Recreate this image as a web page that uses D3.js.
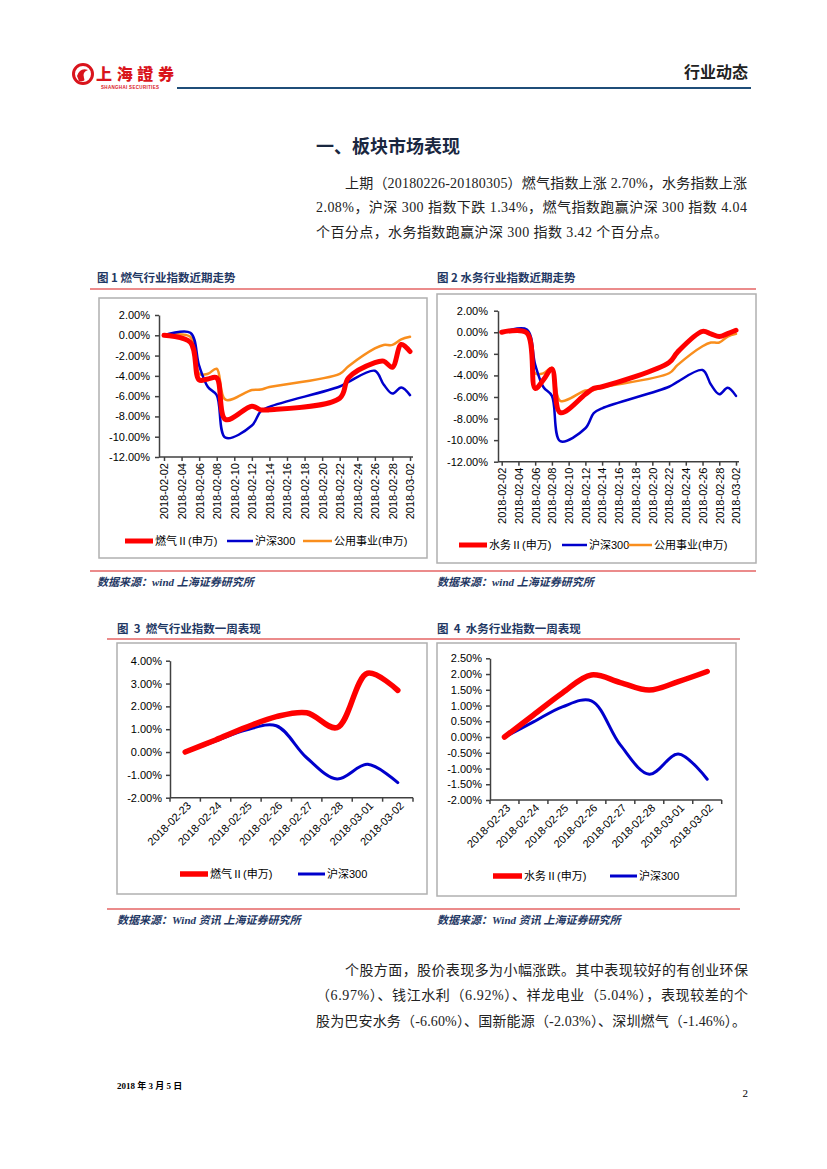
<!DOCTYPE html>
<html>
<head>
<meta charset="utf-8">
<script src="https://cdn.jsdelivr.net/npm/d3@7"></script>
<style>
  body { margin: 0; background: #fff; }
</style>
</head>
<body>
<div id="page"></div>
<script>
// ---- data ----
const trendDates = ["2018-02-02", "2018-02-05", "2018-02-06", "2018-02-07", "2018-02-08", "2018-02-09",
  "2018-02-12", "2018-02-13", "2018-02-14", "2018-02-22", "2018-02-23", "2018-02-26",
  "2018-02-27", "2018-02-28", "2018-03-01", "2018-03-02"];
const gasTrend     = [0, -0.7, -4.4, -4.3, -4.2, -8.3, -7.0, -7.35, -7.35, -6.2, -4.2, -2.7, -2.55, -3.15, -0.9, -1.6];
const waterTrend   = [0, -0.05, -5.2, -4.4, -3.4, -7.45, -5.75, -5.2, -5.05, -2.8, -1.85, 0.08, -0.15, -0.4, -0.12, 0.19];
const hs300Trend   = [0, 0.25, -3.0, -5.1, -5.9, -10.1, -8.9, -7.5, -7.05, -5.05, -4.6, -3.5, -4.85, -5.75, -5.15, -5.9];
const utilityTrend = [0, -0.15, -3.8, -3.8, -3.3, -6.35, -5.4, -5.35, -5.1, -3.8, -3.05, -1.3, -0.95, -0.95, -0.4, -0.15];
const trendTicks = ["2018-02-02", "2018-02-04", "2018-02-06", "2018-02-08", "2018-02-10", "2018-02-12",
  "2018-02-14", "2018-02-16", "2018-02-18", "2018-02-20", "2018-02-22", "2018-02-24",
  "2018-02-26", "2018-02-28", "2018-03-02"];
const trendYTicks = [2, 0, -2, -4, -6, -8, -10, -12];

const weekDates = ["2018-02-23", "2018-02-24", "2018-02-25", "2018-02-26", "2018-02-27", "2018-02-28", "2018-03-01", "2018-03-02"];
const gasWeek   = [0, 0.53, 1.08, 1.55, 1.72, 1.07, 3.45, 2.70];
const waterWeek = [0, 0.70, 1.40, 1.97, 1.73, 1.49, 1.76, 2.08];
const hs300Week = [0, 0.48, 0.96, 1.15, -0.25, -1.18, -0.54, -1.34];
const gasWeekYTicks   = [4, 3, 2, 1, 0, -1, -2];
const waterWeekYTicks = [2.5, 2, 1.5, 1, 0.5, 0, -0.5, -1, -1.5, -2];

const RED = "#ff0000", BLUE = "#0000cc", ORANGE = "#f98e1d";
const NAVY = "#1f3864";
const SANS = "'Liberation Sans', Arial, 'Noto Sans CJK SC', sans-serif";
const SERIF = "'Liberation Serif', 'Times New Roman', 'Noto Sans CJK SC', serif";
const CJK = "'Noto Sans CJK SC', sans-serif";
const parse = d3.timeParse("%Y-%m-%d");

const svg = d3.select("#page").append("svg")
  .attr("width", 827).attr("height", 1169)
  .attr("viewBox", [0, 0, 827, 1169]);
svg.append("rect").attr("width", 827).attr("height", 1169).attr("fill", "#fff");

// ---- page header ----
const logo = svg.append("g");
logo.append("circle").attr("cx", 83).attr("cy", 74).attr("r", 9.5)
  .attr("fill", "none").attr("stroke", "#d9141c").attr("stroke-width", 3);
logo.append("path").attr("d", "M77,76 Q80,67 88,70 Q82,72 84,78 Q86,82 79,81 Z").attr("fill", "#d9141c");
logo.append("text").attr("x", 96).attr("y", 80).attr("fill", "#d9141c")
  .style("font-family", CJK).style("font-weight", "900").style("font-size", "16px")
  .attr("textLength", 78).text("上海證券");
logo.append("text").attr("x", 101).attr("y", 89).attr("fill", "#d9141c")
  .style("font-family", SANS).style("font-weight", "bold").style("font-size", "4.5px")
  .attr("textLength", 58).text("SHANGHAI SECURITIES");

svg.append("text").attr("x", 748).attr("y", 78).attr("text-anchor", "end")
  .style("font-family", CJK).style("font-weight", "bold").style("font-size", "16px")
  .attr("fill", "#222").text("行业动态");
svg.append("line").attr("x1", 177).attr("x2", 751).attr("y1", 88).attr("y2", 88)
  .attr("stroke", "#1f4e79").attr("stroke-width", 2);

// ---- section heading + paragraph ----
svg.append("text").attr("x", 316).attr("y", 153)
  .style("font-family", CJK).style("font-weight", "bold").style("font-size", "18px")
  .attr("fill", "#1a2740").text("一、板块市场表现");

function para(lines) {
  lines.forEach(l => {
    const t = svg.append("text").attr("x", l.x).attr("y", l.y)
      .style("font-family", SERIF).style("font-size", "14px").attr("fill", "#222").text(l.s);
    if (l.w) t.attr("textLength", l.w).attr("lengthAdjust", "spacing");
  });
}
para([
  {x: 345, y: 188, w: 402, s: "上期（20180226-20180305）燃气指数上涨 2.70%，水务指数上涨"},
  {x: 316, y: 212, w: 431, s: "2.08%，沪深 300 指数下跌 1.34%，燃气指数跑赢沪深 300 指数 4.04"},
  {x: 316, y: 237, w: 352, s: "个百分点，水务指数跑赢沪深 300 指数 3.42 个百分点。"}
]);

// ---- captions, rules, sources ----
function caption(x, y, s) {
  svg.append("text").attr("x", x).attr("y", y)
    .style("font-family", CJK).style("font-weight", "bold").style("font-size", "11.5px")
    .attr("fill", NAVY).attr("xml:space", "preserve").text(s);
}
function rule(x1, x2, y) {
  svg.append("line").attr("x1", x1).attr("x2", x2).attr("y1", y).attr("y2", y)
    .attr("stroke", "#e46464").attr("stroke-width", 1.5);
}
function source(x, y, s) {
  svg.append("text").attr("x", x).attr("y", y)
    .style("font-family", SERIF).style("font-weight", "bold").style("font-style", "italic")
    .style("font-size", "11px").attr("fill", NAVY).text(s);
}
caption(97, 282, "图 1 燃气行业指数近期走势");
caption(437, 282, "图 2 水务行业指数近期走势");
rule(90, 756, 289);
rule(90, 756, 571);
source(97, 586, "数据来源：wind 上海证券研究所");
source(437, 586, "数据来源：wind 上海证券研究所");
caption(117, 633, "图  3  燃气行业指数一周表现");
caption(437, 633, "图  4  水务行业指数一周表现");
rule(107, 740, 639);
rule(107, 740, 909);
source(117, 924, "数据来源：Wind 资讯 上海证券研究所");
source(437, 924, "数据来源：Wind 资讯 上海证券研究所");

// ---- chart helpers ----
function styleAxis(sel) {
  sel.selectAll(".domain, .tick line").attr("stroke", "#404040").attr("stroke-width", 1.5);
  sel.selectAll("text").style("font-family", SANS).style("font-size", "11px").attr("fill", "#000");
}

function legend(g, items, ly) {
  items.forEach(it => {
    g.append("line").attr("x1", it.x1).attr("x2", it.x2).attr("y1", ly).attr("y2", ly)
      .attr("stroke", it.color).attr("stroke-width", it.width);
    g.append("text").attr("x", it.x2 + 2).attr("y", ly).attr("dy", "0.36em")
      .style("font-family", SANS).style("font-size", "11px").attr("fill", "#000").text(it.name);
  });
}

function trendChart(o) {
  const g = svg.append("g");
  g.append("rect").attr("x", o.box[0]).attr("y", o.box[1])
    .attr("width", o.box[2] - o.box[0]).attr("height", o.box[3] - o.box[1])
    .attr("fill", "#fff").attr("stroke", "#b0b0b0").attr("stroke-width", 1.5);

  const x = d3.scaleTime().domain([parse("2018-02-02"), parse("2018-03-02")]).range([o.x0, o.x1]);
  const y = d3.scaleLinear().domain([-12, 2]).range([o.yBot, o.yTop]);

  const ya = g.append("g").attr("transform", `translate(${o.axisX},0)`)
    .call(d3.axisLeft(y).tickValues(trendYTicks).tickSize(4).tickSizeOuter(0)
      .tickPadding(o.pad).tickFormat(d => d.toFixed(2) + "%"));
  styleAxis(ya);

  const xa = g.append("g").attr("transform", `translate(0,${o.yBot})`)
    .call(d3.axisBottom(x).tickValues(trendTicks.map(parse)).tickSize(4)
      .tickFormat(d3.timeFormat("%Y-%m-%d")));
  xa.select(".domain").remove();
  styleAxis(xa);
  xa.selectAll("text").attr("transform", "rotate(-90)").attr("text-anchor", "end")
    .attr("x", -6).attr("y", 0).attr("dy", "0.35em");
  g.append("line").attr("x1", o.axisX).attr("x2", o.axisR).attr("y1", o.yBot).attr("y2", o.yBot)
    .attr("stroke", "#404040").attr("stroke-width", 1.5);

  const line = d3.line().x(d => x(d.date)).y(d => y(d.v)).curve(d3.curveCatmullRom.alpha(0.5));
  o.series.slice().reverse().forEach(s => {
    const pts = trendDates.map((d, i) => ({date: parse(d), v: s.values[i]}));
    g.append("path").datum(pts).attr("d", line).attr("fill", "none")
      .attr("stroke", s.color).attr("stroke-width", s.width)
      .attr("stroke-linejoin", "round").attr("stroke-linecap", "round");
  });
  legend(g, o.series.map((s, i) => ({...s, x1: o.leg[i][0], x2: o.leg[i][1]})), o.legY);
}

function weekChart(o) {
  const g = svg.append("g");
  g.append("rect").attr("x", o.box[0]).attr("y", o.box[1])
    .attr("width", o.box[2] - o.box[0]).attr("height", o.box[3] - o.box[1])
    .attr("fill", "#fff").attr("stroke", "#b0b0b0").attr("stroke-width", 1.5);

  const band = d3.scaleBand().domain(weekDates).range([o.axisX, o.axisR]);
  const cx = d => band(d) + band.bandwidth() / 2;
  const y = d3.scaleLinear().domain(o.yDomain).range([o.yBot, o.yTop]);

  const ya = g.append("g").attr("transform", `translate(${o.axisX},0)`)
    .call(d3.axisLeft(y).tickValues(o.yTicks).tickSize(4).tickSizeOuter(0)
      .tickPadding(o.pad).tickFormat(d => d.toFixed(2) + "%"));
  styleAxis(ya);

  // category boundary ticks + axis line
  const bounds = weekDates.map(d => band(d)).concat([o.axisR]);
  g.append("g").selectAll("line").data(bounds).join("line")
    .attr("x1", d => d).attr("x2", d => d).attr("y1", o.yBot).attr("y2", o.yBot + 4)
    .attr("stroke", "#404040").attr("stroke-width", 1.5);
  g.append("line").attr("x1", o.axisX).attr("x2", o.axisR).attr("y1", o.yBot).attr("y2", o.yBot)
    .attr("stroke", "#404040").attr("stroke-width", 1.5);
  g.append("g").selectAll("text").data(weekDates).join("text")
    .attr("transform", d => `translate(${cx(d) + 4},${o.yBot + 6}) rotate(-45)`)
    .attr("text-anchor", "end").attr("dy", "0.35em")
    .style("font-family", SANS).style("font-size", "11px").attr("fill", "#000").text(d => d);

  const line = d3.line().x(d => cx(d.date)).y(d => y(d.v)).curve(d3.curveCatmullRom.alpha(0.5));
  o.series.slice().reverse().forEach(s => {
    const pts = weekDates.map((d, i) => ({date: d, v: s.values[i]}));
    g.append("path").datum(pts).attr("d", line).attr("fill", "none")
      .attr("stroke", s.color).attr("stroke-width", s.width)
      .attr("stroke-linejoin", "round").attr("stroke-linecap", "round");
  });
  legend(g, o.series.map((s, i) => ({...s, x1: o.leg[i][0], x2: o.leg[i][1]})), o.legY);
}

// ---- the four charts ----
trendChart({
  box: [99, 298, 427, 558], axisX: 159, axisR: 413, x0: 164, x1: 410, yTop: 315, yBot: 457, pad: 5,
  series: [
    {name: "燃气Ⅱ(申万)", values: gasTrend, color: RED, width: 5},
    {name: "沪深300", values: hs300Trend, color: BLUE, width: 2.5},
    {name: "公用事业(申万)", values: utilityTrend, color: ORANGE, width: 2.5}
  ],
  leg: [[125, 153], [227, 253], [303, 332]], legY: 541
});
trendChart({
  box: [437, 294, 756, 563], axisX: 498, axisR: 739, x0: 501.7, x1: 736, yTop: 310.7, yBot: 461.7, pad: 6,
  series: [
    {name: "水务Ⅱ(申万)", values: waterTrend, color: RED, width: 5},
    {name: "沪深300", values: hs300Trend, color: BLUE, width: 2.5},
    {name: "公用事业(申万)", values: utilityTrend, color: ORANGE, width: 2.5}
  ],
  leg: [[459, 487], [562, 587], [627, 652]], legY: 545
});
weekChart({
  box: [117, 643, 427, 894], axisX: 170, axisR: 413, yTop: 660.7, yBot: 797.7, pad: 4,
  yDomain: [-2, 4], yTicks: gasWeekYTicks,
  series: [
    {name: "燃气Ⅱ(申万)", values: gasWeek, color: RED, width: 5.5},
    {name: "沪深300", values: hs300Week, color: BLUE, width: 3}
  ],
  leg: [[180, 208], [298, 325]], legY: 874
});
weekChart({
  box: [437, 643, 736, 896], axisX: 490, axisR: 721.7, yTop: 658.3, yBot: 800, pad: 4,
  yDomain: [-2, 2.5], yTicks: waterWeekYTicks,
  series: [
    {name: "水务Ⅱ(申万)", values: waterWeek, color: RED, width: 5.5},
    {name: "沪深300", values: hs300Week, color: BLUE, width: 3}
  ],
  leg: [[493, 522], [610, 637]], legY: 876
});

// ---- bottom paragraph + footer ----
para([
  {x: 345, y: 975, w: 403, s: "个股方面，股价表现多为小幅涨跌。其中表现较好的有创业环保"},
  {x: 316, y: 1000, w: 432, s: "（6.97%）、钱江水利（6.92%）、祥龙电业（5.04%），表现较差的个"},
  {x: 316, y: 1026, w: 430, s: "股为巴安水务（-6.60%）、国新能源（-2.03%）、深圳燃气（-1.46%）。"}
]);
svg.append("text").attr("x", 117).attr("y", 1089)
  .style("font-family", SERIF).style("font-weight", "bold").style("font-size", "9px")
  .attr("fill", "#000").text("2018 年 3 月 5 日");
svg.append("text").attr("x", 748).attr("y", 1097).attr("text-anchor", "end")
  .style("font-family", SERIF).style("font-size", "11px").attr("fill", "#000").text("2");
</script>
</body>
</html>
